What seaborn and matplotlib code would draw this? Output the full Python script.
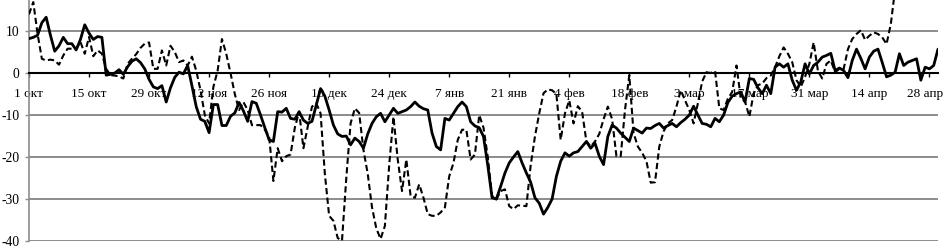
import numpy as np
import pandas as pd
import matplotlib
matplotlib.use("Agg")
import matplotlib.pyplot as plt
import matplotlib.transforms as mtransforms
import seaborn as sns

# daily values, 1 Oct .. 30 Apr (leap year)
solid = [8.2, 8.5, 9.0, 12.0, 13.3, 9.0, 5.2, 6.5, 8.5, 7.0,
         7.0, 5.5, 8.0, 11.5, 9.5, 8.0, 8.7, 8.5, -0.5, -0.3,
         0.0, 0.8, -0.3, 1.5, 2.8, 3.4, 2.5, 1.0, -1.5, -3.3,
         -3.7, -3.0, -6.9, -3.5, -1.0, 0.2, -0.2, 1.8, -3.0, -8.0,
         -11.0, -11.5, -14.2, -7.5, -7.5, -12.5, -12.5, -10.3, -9.5, -7.0,
         -9.0, -11.5, -6.8, -7.2, -10.0, -13.0, -15.9, -16.3, -9.2, -9.3,
         -8.4, -10.8, -11.0, -9.2, -11.2, -12.0, -11.5, -7.6, -3.7, -5.5,
         -8.8, -12.4, -14.5, -15.1, -15.0, -17.1, -15.5, -16.3, -17.9, -14.5,
         -12.0, -10.4, -9.6, -11.6, -10.0, -8.4, -9.6, -9.2, -8.8, -8.0,
         -6.9, -7.9, -8.5, -8.8, -14.3, -17.5, -18.3, -10.8, -11.2, -9.6,
         -8.0, -6.9, -8.0, -11.6, -12.6, -13.0, -15.1, -22.0, -29.7, -30.0,
         -27.0, -23.8, -21.4, -20.0, -18.7, -21.4, -23.8, -26.0, -29.7, -31.0,
         -33.6, -32.0, -30.0, -24.6, -21.0, -19.0, -19.8, -19.0, -18.7, -17.5,
         -16.3, -17.9, -16.7, -19.8, -21.8, -15.1, -12.4, -13.1, -14.3, -15.3,
         -16.3, -13.1, -13.7, -14.3, -13.1, -13.2, -12.5, -12.0, -13.1, -12.5,
         -12.0, -12.8, -11.8, -11.0, -10.0, -7.9, -10.0, -12.0, -12.2, -12.8,
         -10.8, -11.6, -10.0, -7.0, -5.5, -4.9, -4.5, -6.9, -1.3, -1.5,
         -3.5, -4.9, -2.9, -4.9, 1.4, 2.2, 1.4, 2.2, -1.7, -4.1,
         -2.1, 2.2, -0.2, 1.8, 2.6, 3.8, 4.2, 4.7, 0.6, 1.2,
         0.6, -1.1, 3.0, 5.7, 3.5, 1.0, 3.8, 5.2, 5.7, 2.5,
         -0.9, -0.5, 0.2, 4.6, 1.8, 2.6, 3.0, 3.4, -1.7, 1.4,
         1.0, 1.8, 5.7]

dashed = [14.0, 16.9, 9.3, 3.4, 3.0, 3.2, 3.0, 2.0, 4.2, 5.8,
          5.8, 5.8, 7.4, 4.6, 8.6, 4.0, 5.4, 4.6, 1.0, -0.5,
          -0.6, -0.8, -1.3, 2.2, 3.4, 4.5, 6.0, 7.0, 7.3, 1.0,
          1.0, 5.4, 1.8, 6.5, 5.0, 2.6, 3.0, 1.8, 3.9, 0.6,
          -4.1, -10.0, -12.0, -3.3, 0.6, 8.1, 4.6, 0.0, -5.0, -8.8,
          -6.9, -8.8, -12.4, -12.4, -12.4, -13.5, -15.1, -25.7, -17.9, -21.0,
          -19.8, -19.4, -13.0, -9.2, -17.9, -12.8, -8.0, -7.2, -9.6, -24.0,
          -34.0, -35.2, -39.3, -39.9, -25.0, -12.0, -8.4, -9.5, -18.3, -24.0,
          -32.0, -37.0, -39.5, -36.4, -22.0, -10.4, -20.6, -28.1, -20.6, -29.3,
          -29.7, -26.5, -29.7, -33.6, -34.0, -34.0, -33.2, -32.0, -24.6, -21.4,
          -15.9, -13.5, -13.5, -20.6, -19.4, -10.0, -13.0, -20.0, -29.3, -30.1,
          -28.1, -27.7, -31.7, -32.4, -31.5, -31.6, -31.7, -22.0, -15.1, -9.6,
          -4.8, -3.9, -4.1, -5.0, -15.9, -9.6, -6.5, -12.0, -7.9, -9.2,
          -16.3, -17.5, -16.3, -14.5, -11.0, -8.0, -11.0, -19.8, -19.8, -8.8,
          -0.5, -14.3, -17.5, -19.0, -21.0, -26.1, -26.0, -17.5, -13.9, -12.0,
          -11.2, -8.0, -4.1, -6.5, -8.8, -12.0, -7.2, -2.0, 0.2, 0.0,
          0.5, -8.4, -8.8, -6.1, -4.5, 1.8, -6.0, -6.8, -10.4, -4.9,
          -2.9, -2.5, -1.2, -0.6, 1.4, 4.0, 6.1, 4.6, 2.6, -1.7,
          -3.3, -0.9, 2.2, 7.3, 0.5, -1.3, 2.2, 3.0, 0.2, 1.0,
          1.0, 5.7, 8.1, 9.3, 10.2, 7.9, 8.9, 9.7, 9.3, 8.5,
          6.9, 11.7, 20.0] + [np.nan] * 10

tick_days = list(range(0, 211, 14))
tick_labels = ["1 окт", "15 окт", "29 окт", "12 ноя", "26 ноя", "10 дек",
               "24 дек", "7 янв", "21 янв", "4 фев", "18 фев", "3 мар",
               "17 мар", "31 мар", "14 апр", "28 апр"]

df = pd.DataFrame({"day": np.arange(len(solid)), "solid": solid, "dashed": dashed})

sns.set_theme(style="white")
plt.rcParams["font.family"] = ["Liberation Serif", "DejaVu Serif"]
plt.rcParams["axes.unicode_minus"] = False

fig = plt.figure(figsize=(9.45, 2.48), dpi=100)
ax = fig.add_axes([29 / 945, 7 / 248, 909 / 945, 241 / 248])

sns.lineplot(data=df, x="day", y="dashed", ax=ax, color="black", lw=1.5,
             linestyle=(0, (3, 1.6)), zorder=3)
sns.lineplot(data=df, x="day", y="solid", ax=ax, color="black", lw=2.0, zorder=4)

ax.set_xlim(0, 212)
ax.set_ylim(-40, 17.4)
ax.set_yticks([-40, -30, -20, -10, 0, 10])
ax.set_xticks(tick_days)
ax.set_xticklabels(tick_labels)
for v in [-40, -30, -20, -10, 10]:
    ax.axhline(v, color="#8c8c8c", lw=1.4, zorder=1)

for side in ["top", "right"]:
    ax.spines[side].set_visible(False)
ax.spines["left"].set_color("#8c8c8c")
ax.spines["left"].set_linewidth(1.2)
ax.spines["bottom"].set_position(("data", 0))
ax.spines["bottom"].set_color("black")
ax.spines["bottom"].set_linewidth(1.5)

ax.tick_params(axis="x", direction="out", length=3, width=1, colors="black",
               pad=8, labelsize=9.5, bottom=True)
ax.tick_params(axis="y", direction="out", length=3, width=1, color="#8c8c8c",
               labelcolor="black", pad=4, labelsize=9.8, left=True)
ax.set_xlabel("")
ax.set_ylabel("")

# nudge the last date label so it stays inside the picture
last = ax.get_xticklabels()[-1]
last.set_transform(last.get_transform() +
                   mtransforms.ScaledTranslation(-4 / 100, 0, fig.dpi_scale_trans))

fig.savefig("out.png", dpi=100)
plt.close(fig)
